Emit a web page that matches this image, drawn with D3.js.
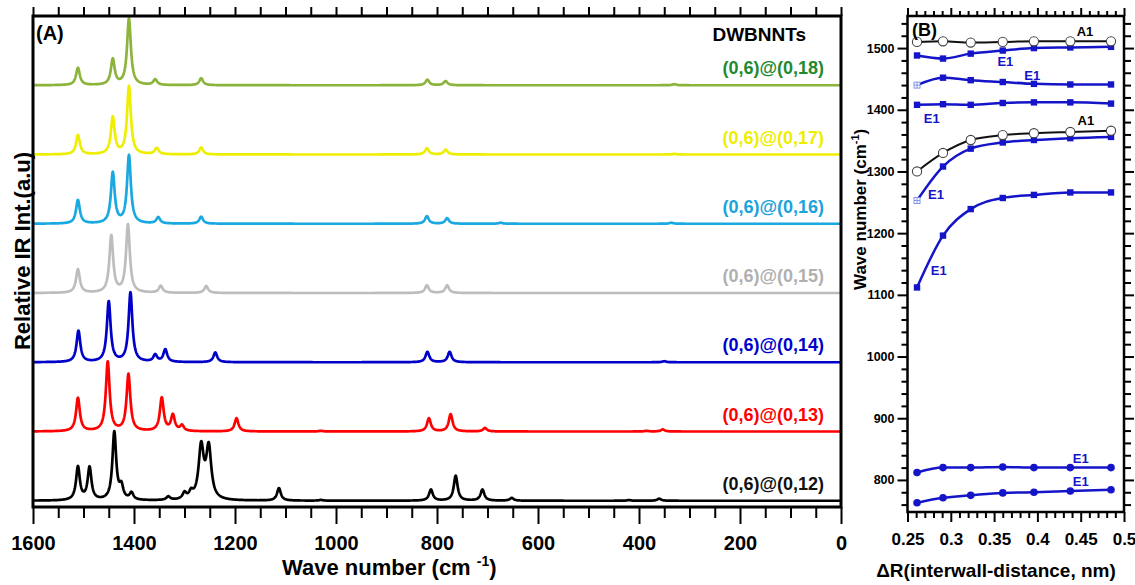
<!DOCTYPE html>
<html><head><meta charset="utf-8">
<script src="https://cdn.jsdelivr.net/npm/d3@7"></script>
<style>
body{margin:0;background:#fff}
text{font-family:"Liberation Sans",Arial,sans-serif;font-weight:bold}
</style></head>
<body><svg id="c" width="1135" height="585"></svg>
<script>
// ---------------- DATA ----------------
// Panel A: IR peak tables: [wave number, relative intensity, (optional half-width)]
const spectrumLabels = ["(0,6)@(0,12)","(0,6)@(0,13)","(0,6)@(0,14)","(0,6)@(0,15)","(0,6)@(0,16)","(0,6)@(0,17)","(0,6)@(0,18)"];
const peaks012 = [[1511,48],[1488,47],[1439,98],[1425,18],[1405,10],[1332,5],[1300,9],[1287,9],[1267,75,6],[1252,74,6],[1113,18],[1030,1],[812,16],[763,36],[710,16],[652,4],[420,1],[360,3]];
const peaks013 = [[1511,48],[1452,100],[1411,82],[1345,48],[1323,23],[1305,8],[1197,19],[1030,1],[816,19],[773,25],[705,5],[385,1],[353,3]];
const peaks014 = [[1510,45],[1450,87],[1407,100],[1358,10],[1338,18],[1239,14],[819,15],[775,15],[350,1.5]];
const peaks015 = [[1511,34],[1445,82],[1412,98],[1347,10],[1257,10],[820,11],[780,11]];
const peaks016 = [[1511,34],[1442,73],[1410,98],[1352,9],[1267,10],[820,11],[780,8],[674,1.5],[336,1.5]];
const peaks017 = [[1511,28],[1442,53],[1410,98],[1355,9],[1267,10],[820,9],[783,7],[330,1]];
const peaks018 = [[1511,25],[1442,37],[1410,96],[1358,8],[1267,10],[819,8],[783,6],[330,1.5]];
const spectraPeaks = [peaks012,peaks013,peaks014,peaks015,peaks016,peaks017,peaks018];
const xTicksA = [1600,1400,1200,1000,800,600,400,200,0];

// Panel B: frequency vs interwall distance
const deltaR   = [0.261,0.291,0.323,0.360,0.396,0.438,0.485];
const a1Upper  = [1510,1511,1509,1510,1511,1511,1511];
const e1Upper  = [1488,1483,1491,1496,1500,1501,1502];
const e1Second = [1440,1452,1448,1445,1442,1441,1441];
const e1Third  = [1408,1409,1408,1411,1412,1412,1410];
const a1Lower  = [1300,1330,1351,1359,1362,1364,1366];
const e1Fourth = [1253,1308,1337,1347,1351,1354,1356];
const e1Fifth  = [1112,1196,1239,1257,1262,1266,1266];
const e1Low1   = [812,820,820,821,820,820,820];
const e1Low2   = [763,771,775,779,780,782,784];
const yTicksB  = [800,900,1000,1100,1200,1300,1400,1500];
const xTicksB  = [0.25,0.3,0.35,0.4,0.45,0.5];
// mode labels: [text, ΔR anchor, wave-number anchor]
const modeLabels = [["A1",0.455,1519],["E1",0.363,1471],["E1",0.394,1449],["E1",0.278,1379],["A1",0.456,1375],
                    ["E1",0.283,1255],["E1",0.286,1132],["E1",0.45,828],["E1",0.45,790]];

// ---------------- STYLE ----------------
const lineColors  = ["#000000","#ff0000","#0000c8","#bdbdbd","#1aa8e0","#eeee00","#8cb43c"];
const labelColors = ["#111111","#ff0000","#0000cc","#b0b0b0","#1aa3dc","#eeee00","#1f8a2e"];
const blue = "#1414c8";

const svg = d3.select("#c");

// ================= PANEL A =================
const A = {l:33, r:841, t:16, b:507};
const xA = d3.scaleLinear().domain([1600,0]).range([A.l,A.r]);
const yA = d3.scaleLinear().domain([-9,700]).range([A.b,A.t]);
const gamma = 4.5;
const step = 100; // vertical offset between stacked spectra

svg.append("clipPath").attr("id","clipA").append("rect")
  .attr("x",A.l).attr("y",A.t).attr("width",A.r-A.l).attr("height",A.b-A.t);

const grid = d3.range(1600,-0.01,-0.5);
function spectrum(peaks){
  return grid.map(w=>{
    let s=0;
    for(const p of peaks){const g=p[2]||gamma; const d=w-p[0]; s+=p[1]*g*g/(d*d+g*g);}
    return [w,s];
  });
}
const gA = svg.append("g").attr("clip-path","url(#clipA)");
spectraPeaks.forEach((pk,i)=>{
  const off = i*step;
  gA.append("path").datum(spectrum(pk))
    .attr("fill","none").attr("stroke",lineColors[i]).attr("stroke-width",2.7)
    .attr("stroke-linejoin","round")
    .attr("d",d3.line().x(d=>xA(d[0])).y(d=>yA(d[1]+off)));
  svg.append("text").attr("x",824).attr("y",yA(off)-11)
    .attr("text-anchor","end").attr("font-size",18).attr("fill",labelColors[i])
    .text(spectrumLabels[i]);
});

svg.append("text").attr("x",806).attr("y",41).attr("text-anchor","end").attr("font-size",19).text("DWBNNTs");
svg.append("text").attr("x",36).attr("y",40).attr("font-size",20).text("(A)");

// axes A
function styleAxis(g,fs){
  g.select(".domain").remove();
  g.selectAll(".tick line").attr("stroke","#000").attr("stroke-width",2);
  g.selectAll(".tick text").attr("fill","#000").attr("font-size",fs)
   .attr("font-family","'Liberation Sans',Arial,sans-serif").attr("font-weight","bold");
}
const minorA = d3.range(50,1600,50).filter(v=>v%200!==0);
svg.append("g").attr("transform",`translate(0,${A.b})`)
  .call(d3.axisBottom(xA).tickValues(xTicksA).tickSize(17).tickPadding(12).tickFormat(d3.format("d")))
  .call(g=>styleAxis(g,20));
svg.append("g").attr("transform",`translate(0,${A.b})`)
  .call(d3.axisBottom(xA).tickValues(minorA).tickSize(11).tickFormat(""))
  .call(g=>styleAxis(g,20));
svg.append("g").attr("transform",`translate(0,${A.t})`)
  .call(d3.axisTop(xA).tickValues(d3.range(0,1601,50)).tickSize(9).tickFormat(""))
  .call(g=>styleAxis(g,20));
svg.append("rect").attr("x",A.l).attr("y",A.t).attr("width",A.r-A.l).attr("height",A.b-A.t)
  .attr("fill","none").attr("stroke","#000").attr("stroke-width",3);

const tA = svg.append("text").attr("x",282).attr("y",575).attr("font-size",22);
tA.append("tspan").text("Wave number (cm ");
tA.append("tspan").attr("font-size",14).attr("dy",-9).text("-1");
tA.append("tspan").attr("dy",9).text(")");

svg.append("text").attr("transform","translate(30,251) rotate(-90)")
  .attr("text-anchor","middle").attr("font-size",22).text("Relative IR Int.(a.u)");

// ================= PANEL B =================
const B = {l:907.5, r:1124, t:16, b:512};
const xB = d3.scaleLinear().domain([0.25,0.5]).range([B.l,B.r]);
const yB = d3.scaleLinear().domain([748,1552]).range([B.b,B.t]);

const minorYB = d3.range(760,1541,20).filter(v=>v%100!==0);
const minorXB = d3.range(25,51).filter(v=>v%5!==0).map(v=>v/100);
const fmtX = d=>String(+d.toFixed(2));

svg.append("g").attr("transform",`translate(${B.l},0)`)
  .call(d3.axisLeft(yB).tickValues(yTicksB).tickSize(10).tickPadding(3).tickFormat(d3.format("d")))
  .call(g=>styleAxis(g,12.5));
svg.append("g").attr("transform",`translate(${B.l},0)`)
  .call(d3.axisLeft(yB).tickValues(minorYB).tickSize(6).tickFormat(""))
  .call(g=>styleAxis(g,12.5));
svg.append("g").attr("transform",`translate(${B.r},0)`)
  .call(d3.axisRight(yB).tickValues(yTicksB).tickSize(10).tickFormat(""))
  .call(g=>styleAxis(g,12.5));
svg.append("g").attr("transform",`translate(${B.r},0)`)
  .call(d3.axisRight(yB).tickValues(minorYB).tickSize(7).tickFormat(""))
  .call(g=>styleAxis(g,12.5));
svg.append("g").attr("transform",`translate(0,${B.b})`)
  .call(d3.axisBottom(xB).tickValues(xTicksB).tickSize(10).tickPadding(11).tickFormat(fmtX))
  .call(g=>styleAxis(g,17));
svg.append("g").attr("transform",`translate(0,${B.b})`)
  .call(d3.axisBottom(xB).tickValues(minorXB).tickSize(6).tickFormat(""))
  .call(g=>styleAxis(g,17));
svg.append("g").attr("transform",`translate(0,${B.t})`)
  .call(d3.axisTop(xB).tickValues(xTicksB).tickSize(8).tickFormat(""))
  .call(g=>styleAxis(g,17));
svg.append("g").attr("transform",`translate(0,${B.t})`)
  .call(d3.axisTop(xB).tickValues(minorXB).tickSize(5).tickFormat(""))
  .call(g=>styleAxis(g,17));

const seriesB = [
  {v:e1Upper, c:blue, m:"square"},
  {v:e1Second,c:blue, m:"square", first:"crossed"},
  {v:e1Third, c:blue, m:"square"},
  {v:e1Fourth,c:blue, m:"square", first:"crossed"},
  {v:e1Fifth, c:blue, m:"square"},
  {v:e1Low1,  c:blue, m:"dot"},
  {v:e1Low2,  c:blue, m:"dot"},
  {v:a1Upper, c:"#111", m:"open"},
  {v:a1Lower, c:"#111", m:"open"}
];
const lineB = d3.line().x((d,i)=>xB(deltaR[i])).y(d=>yB(d)).curve(d3.curveMonotoneX);
seriesB.forEach(s=>{
  svg.append("path").datum(s.v).attr("fill","none").attr("stroke",s.c)
    .attr("stroke-width",s.c===blue?2.5:2).attr("d",lineB);
});
seriesB.forEach(s=>{
  s.v.forEach((d,i)=>{
    const cx=xB(deltaR[i]), cy=yB(d);
    if(i===0 && s.first==="crossed"){
      const g=svg.append("g").attr("stroke","#6a7ee6").attr("stroke-width",0.8);
      g.append("rect").attr("x",cx-3).attr("y",cy-3).attr("width",6).attr("height",6).attr("fill","#fff");
      g.append("line").attr("x1",cx-3).attr("x2",cx+3).attr("y1",cy).attr("y2",cy);
      g.append("line").attr("x1",cx).attr("x2",cx).attr("y1",cy-3).attr("y2",cy+3);
    } else if(s.m==="square"){
      svg.append("rect").attr("x",cx-3.2).attr("y",cy-3.2).attr("width",6.4).attr("height",6.4).attr("fill",blue);
    } else if(s.m==="dot"){
      svg.append("circle").attr("cx",cx).attr("cy",cy).attr("r",3.8).attr("fill",blue);
    } else {
      svg.append("circle").attr("cx",cx).attr("cy",cy).attr("r",4.6).attr("fill","#fff")
        .attr("stroke","#444").attr("stroke-width",1.1);
    }
  });
});
modeLabels.forEach(l=>{
  svg.append("text").attr("x",xB(l[1])).attr("y",yB(l[2])).attr("text-anchor","middle")
    .attr("font-size",13).attr("fill",l[0]==="A1"?"#000":blue).text(l[0]);
});

svg.append("rect").attr("x",B.l).attr("y",B.t).attr("width",B.r-B.l).attr("height",B.b-B.t)
  .attr("fill","none").attr("stroke","#000").attr("stroke-width",2.5);

svg.append("text").attr("x",996).attr("y",577).attr("text-anchor","middle").attr("font-size",19)
  .text("\u0394R(interwall-distance, nm)");
const tB = svg.append("text").attr("transform","translate(866,290) rotate(-90)").attr("font-size",17);
tB.append("tspan").text("Wave number (cm");
tB.append("tspan").attr("font-size",11).attr("dy",-7).text("-1");
tB.append("tspan").attr("dy",7).text(")");
svg.append("text").attr("x",912).attr("y",36).attr("font-size",18).text("(B)");
</script>
</body></html>
